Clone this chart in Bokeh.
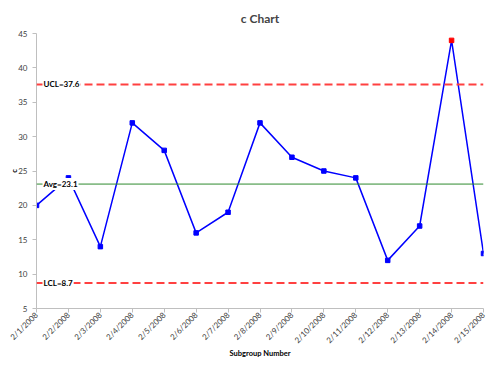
import math
from bokeh.plotting import figure
from bokeh.models import Span, Label, ColumnDataSource, FixedTicker
from bokeh.embed import file_html
from bokeh.resources import INLINE

dates = ["2/1/2008", "2/2/2008", "2/3/2008", "2/4/2008", "2/5/2008", "2/6/2008",
         "2/7/2008", "2/8/2008", "2/9/2008", "2/10/2008", "2/11/2008", "2/12/2008",
         "2/13/2008", "2/14/2008", "2/15/2008"]
counts = [20, 24, 14, 32, 28, 16, 19, 32, 27, 25, 24, 12, 17, 44, 13]
out_of_control = [False] * 13 + [True, False]
avg = 23.1
ucl = 37.6
lcl = 8.7

idx = list(range(len(dates)))
colors = ["#ff0000" if o else "#0000ff" for o in out_of_control]
src = ColumnDataSource(dict(x=idx, y=counts, c=colors))

FONT = "Lato"

p = figure(width=492, height=360, output_backend="svg", toolbar_location=None,
           x_range=(0, len(dates) - 1), y_range=(5, 45),
           min_border_left=36, min_border_right=9, min_border_top=33, min_border_bottom=52)
p.title.text = "c Chart"
p.title.align = "center"
p.title.text_font = FONT
p.title.text_font_size = "12px"
p.title.text_font_style = "bold"
p.title.offset = -9
p.title.standoff = 15
p.outline_line_color = None
p.grid.visible = False

p.line("x", "y", source=src, line_color="#0000ff", line_width=1.5)
p.scatter("x", "y", source=src, marker="square", size=4.5, fill_color="c", line_color="c")

p.add_layout(Span(location=ucl, dimension="width", line_color="#ff4040",
                  line_width=2, line_dash="8 4"))
p.add_layout(Span(location=lcl, dimension="width", line_color="#ff4040",
                  line_width=2, line_dash="8 4"))
p.add_layout(Span(location=avg, dimension="width", line_color="#2e8b2e", line_width=1))

for txt, val in [("UCL=37.6", ucl), ("Avg=23.1", avg), ("LCL=8.7", lcl)]:
    p.add_layout(Label(x=0, y=val, text=txt, x_offset=6, text_baseline="middle",
                       text_font=FONT, text_font_size="8px", text_font_style="bold",
                       text_color="#000000", background_fill_color="white",
                       background_fill_alpha=1.0, padding=1))

p.xaxis.ticker = FixedTicker(ticks=idx)
p.xaxis.major_label_overrides = {i: d for i, d in zip(idx, dates)}
p.xaxis.major_label_orientation = math.pi / 4
p.xaxis.minor_tick_line_color = None
p.xaxis.axis_label = "Subgroup Number"
p.yaxis.axis_label = "c"
p.yaxis.ticker = FixedTicker(ticks=[5, 10, 15, 20, 25, 30, 35, 40, 45])
p.yaxis.minor_tick_line_color = None

for ax in (p.xaxis, p.yaxis):
    ax.axis_line_color = "#bfbfbf"
    ax.major_tick_line_color = "#bfbfbf"
    ax.major_tick_in = 0
    ax.major_tick_out = 4
    ax.major_label_text_font = FONT
    ax.major_label_text_font_size = "8px"
    ax.major_label_text_color = "#404040"
    ax.axis_label_text_font = FONT
    ax.axis_label_text_font_size = "7.5px"
    ax.axis_label_text_font_style = "bold"
    ax.axis_label_text_color = "#000000"
p.xaxis.major_label_standoff = 1
p.yaxis.major_label_standoff = 5
p.xaxis.axis_label_standoff = -3
p.yaxis.axis_label_standoff = -4

open("out.html", "w").write(file_html(p, INLINE))
